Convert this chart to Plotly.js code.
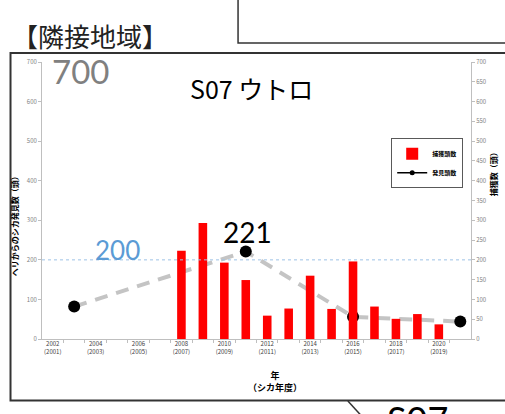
<!DOCTYPE html>
<html>
<head>
<meta charset="utf-8">
<script src="https://cdn.plot.ly/plotly-3.0.1.min.js"></script>
<style>html,body{margin:0;padding:0;background:#fff;}#chart{width:505px;height:414px;}</style>
</head>
<body>
<div id="chart"></div>
<script>
// ---- data ----
const captureYears = [2008, 2009, 2010, 2011, 2012, 2013, 2014, 2015, 2016, 2017, 2018, 2019, 2020];
const captureCounts = [223, 293, 193, 149, 59, 77, 160, 76, 196, 82, 51, 63, 37];
const sightYears = [2003, 2011, 2016, 2021];
const sightCounts = [82, 221, 56, 44];
const tickYears = [2002, 2004, 2006, 2008, 2010, 2012, 2014, 2016, 2018, 2020];
const tickText = ["2002<br>(2001)", "2004<br>(2003)", "2006<br>(2005)", "2008<br>(2007)", "2010<br>(2009)",
                  "2012<br>(2011)", "2014<br>(2013)", "2016<br>(2015)", "2018<br>(2017)", "2020<br>(2019)"];
const boundaryTicks = [2002.5, 2003.5, 2004.5, 2005.5, 2006.5, 2007.5, 2008.5, 2009.5, 2010.5, 2011.5,
                       2012.5, 2013.5, 2014.5, 2015.5, 2016.5, 2017.5, 2018.5, 2019.5, 2020.5];
const targetLevel = 200;
const xRange = [2001.5, 2021.5];
const yRange = [0, 700];

const JP = '"Noto Sans CJK JP", "Noto Sans", sans-serif';
const NUM = 'Lato, "Noto Sans", sans-serif';

const traces = [
  {
    type: 'bar', name: '捕獲頭数', x: captureYears, y: captureCounts,
    xaxis: 'x', yaxis: 'y2', width: 0.4,
    marker: {color: '#ff0000'}
  },
  {
    type: 'scatter', mode: 'lines+markers', name: '発見頭数', x: sightYears, y: sightCounts,
    xaxis: 'x', yaxis: 'y', showlegend: false,
    line: {color: '#c4c4c4', width: 4, dash: '13px,9px'},
    marker: {color: '#000', size: 12}
  },
  {
    type: 'scatter', mode: 'lines+markers', name: '発見頭数', x: [null], y: [null],
    xaxis: 'x', yaxis: 'y',
    line: {color: '#000', width: 1.5}, marker: {color: '#000', size: 5}
  },
  {type: 'scatter', mode: 'none', x: captureYears, y: captureCounts, xaxis: 'x2', yaxis: 'y2',
   showlegend: false, hoverinfo: 'skip'}
];

const gray = '#bfbfbf';
const layout = {
  width: 505, height: 414,
  margin: {l: 42, r: 34, t: 62, b: 75},
  paper_bgcolor: '#fff', plot_bgcolor: '#fff',
  font: {family: JP, color: '#404040'},
  showlegend: true,
  legend: {
    x: 0.814, y: 0.725, xanchor: 'left', yanchor: 'top',
    bordercolor: '#595959', borderwidth: 1, bgcolor: '#fff',
    font: {size: 6, color: '#000', family: JP, weight: 'bold'},
    itemwidth: 30, tracegroupgap: 6
  },
  xaxis: {
    range: xRange, tickvals: boundaryTicks, showticklabels: false,
    ticks: 'outside', ticklen: 3, tickcolor: gray,
    showline: true, linecolor: gray, linewidth: 1, showgrid: false, zeroline: false
  },
  xaxis2: {
    overlaying: 'x', side: 'bottom', range: xRange,
    tickvals: tickYears, ticktext: tickText, ticks: '',
    showline: false, showgrid: false, zeroline: false,
    tickfont: {size: 6, color: '#404040', family: JP}
  },
  yaxis: {
    range: yRange, dtick: 100, ticks: 'outside', ticklen: 3, tickcolor: gray,
    showline: true, linecolor: gray, linewidth: 1, showgrid: false, zeroline: false,
    tickfont: {size: 6, color: '#7f7f7f', family: JP}
  },
  yaxis2: {
    overlaying: 'y', side: 'right', range: yRange, dtick: 50,
    ticks: 'outside', ticklen: 3, tickcolor: gray,
    showline: true, linecolor: gray, linewidth: 1, showgrid: false, zeroline: false,
    tickfont: {size: 6, color: '#7f7f7f', family: JP}
  },
  shapes: [
    {type: 'line', xref: 'paper', yref: 'y', x0: 0, x1: 1, y0: targetLevel, y1: targetLevel,
     line: {color: '#9dc3e6', width: 1, dash: 'dot'}},
    {type: 'rect', xref: 'paper', yref: 'paper', x0: 0.457, x1: 1.2, y0: 1.0686, y1: 1.4,
     line: {color: '#333', width: 1.5}, fillcolor: 'rgba(0,0,0,0)'},
    {type: 'rect', xref: 'paper', yref: 'paper', x0: -0.0734, x1: 1.2, y0: -0.222, y1: 1.0325,
     line: {color: '#333', width: 2}, fillcolor: 'rgba(0,0,0,0)'},
    {type: 'line', xref: 'paper', yref: 'paper', x0: 0.713, y0: -0.224, x1: 0.752, y1: -0.29,
     line: {color: '#333', width: 1.5}}
  ],
  annotations: [
    {xref: 'paper', yref: 'paper', x: -0.0746, y: 1.094, xanchor: 'left', yanchor: 'middle',
     text: '【隣接地域】', showarrow: false, font: {size: 26, color: '#222', family: JP}},
    {xref: 'paper', yref: 'paper', x: 0.0186, y: 0.9675, xanchor: 'left', yanchor: 'middle',
     text: '700', showarrow: false, font: {size: 33, color: '#808080', family: NUM}},
    {xref: 'paper', yref: 'paper', x: 0.4895, y: 0.906, xanchor: 'center', yanchor: 'middle',
     text: 'S07 ウトロ', showarrow: false, font: {size: 25, color: '#000', family: JP}},
    {xref: 'paper', yref: 'paper', x: 0.175, y: 0.321, xanchor: 'center', yanchor: 'middle',
     text: '200', showarrow: false, font: {size: 26, color: '#5b9bd5', family: NUM}},
    {xref: 'paper', yref: 'paper', x: 0.480, y: 0.386, xanchor: 'center', yanchor: 'middle',
     text: '221', showarrow: false, font: {size: 28, color: '#000', family: NUM}},
    {xref: 'paper', yref: 'paper', x: -0.065, y: 0.415, xanchor: 'center', yanchor: 'middle',
     text: 'ヘリからのシカ発見数（頭）', textangle: -90, showarrow: false,
     font: {size: 8, color: '#000', family: JP, weight: 'bold'}},
    {xref: 'paper', yref: 'paper', x: 1.054, y: 0.603, xanchor: 'center', yanchor: 'middle',
     text: '捕獲数（頭）', textangle: -90, showarrow: false,
     font: {size: 8, color: '#000', family: JP, weight: 'bold'}},
    {xref: 'paper', yref: 'paper', x: 0.543, y: -0.152, xanchor: 'center', yanchor: 'middle',
     text: '年<br>（シカ年度）', showarrow: false,
     font: {size: 9, color: '#000', family: JP, weight: 'bold'}},
    {xref: 'paper', yref: 'paper', x: 0.8, y: -0.29, xanchor: 'left', yanchor: 'middle',
     text: 'S07', showarrow: false, font: {size: 36, color: '#000', family: NUM}}
  ]
};

Plotly.newPlot('chart', traces, layout, {staticPlot: true, displayModeBar: false});
</script>
</body>
</html>
